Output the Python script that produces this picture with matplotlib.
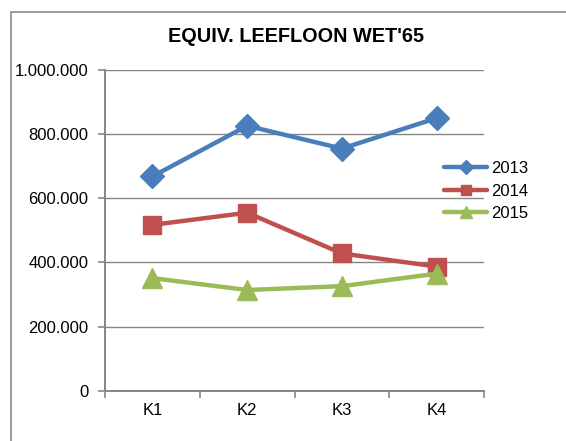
import matplotlib
matplotlib.use("Agg")
import matplotlib.pyplot as plt
from matplotlib.patches import Rectangle
from matplotlib.ticker import FuncFormatter, FixedLocator

# values
categories = ["K1", "K2", "K3", "K4"]
years = ["2013", "2014", "2015"]
v2013 = [668000, 826000, 755000, 850000]
v2014 = [517000, 555000, 428000, 387000]
v2015 = [351000, 314000, 326000, 365000]
yticks = [0, 200000, 400000, 600000, 800000, 1000000]

plt.rcParams["font.family"] = ["Liberation Sans", "DejaVu Sans"]

fig = plt.figure(figsize=(5.66, 4.41), dpi=100)
ax = fig.add_axes([105 / 566, 1 - 390.7 / 441, (484 - 105) / 566, (390.7 - 70) / 441])

# chart frame (cut off at right/bottom in the original)
fig.patches.append(Rectangle((10.5 / 566, -0.1), 1.2, 1 - 12 / 441 + 0.1,
                             transform=fig.transFigure, fill=False,
                             edgecolor="#8c8c8c", lw=1.2, clip_on=False))

styles = [
    (v2013, "#4A7EBB", "D", 12),
    (v2014, "#C0504D", "s", 13),
    (v2015, "#9BBB59", "^", 14),
]
x = list(range(len(categories)))
for (vals, col, mk, ms), yr in zip(styles, years):
    ax.plot(x, vals, color=col, lw=3.2, marker=mk, markersize=ms,
            markerfacecolor=col, markeredgecolor=col, label=yr, zorder=3,
            solid_capstyle="round")

ax.set_xlim(-0.5, len(categories) - 0.5)
ax.set_ylim(0, 1000000)
ax.yaxis.set_major_locator(FixedLocator(yticks))
ax.yaxis.set_major_formatter(FuncFormatter(lambda v, p: f"{int(v):,}".replace(",", ".")))
ax.grid(axis="y", color="#868686", lw=1.0, zorder=0)

ax.xaxis.set_major_locator(FixedLocator([i - 0.5 for i in range(len(categories) + 1)]))
ax.xaxis.set_major_formatter(FuncFormatter(lambda v, p: ""))
ax.xaxis.set_minor_locator(FixedLocator(x))
ax.set_xticklabels(categories, minor=True)
ax.tick_params(axis="x", which="minor", length=0, pad=9, labelsize=12)
ax.tick_params(axis="x", which="major", length=5, width=1.2, color="#868686")
ax.tick_params(axis="y", length=5, width=1.2, color="#868686", pad=7, labelsize=12)

for s in ["top", "right"]:
    ax.spines[s].set_visible(False)
for s in ["left", "bottom"]:
    ax.spines[s].set_color("#868686")
    ax.spines[s].set_linewidth(1.4)

fig.text(296 / 566, 1 - 36 / 441, "EQUIV. LEEFLOON WET'65", ha="center", va="center",
         fontsize=14.3, fontweight="bold")

fig.legend(loc="center left", bbox_to_anchor=(444 / 566, 1 - 191 / 441), frameon=False,
           fontsize=12, markerscale=0.6, handlelength=2.6, handletextpad=0.2,
           labelspacing=0.45, borderpad=0, borderaxespad=0)

fig.savefig("out.png", dpi=100)
